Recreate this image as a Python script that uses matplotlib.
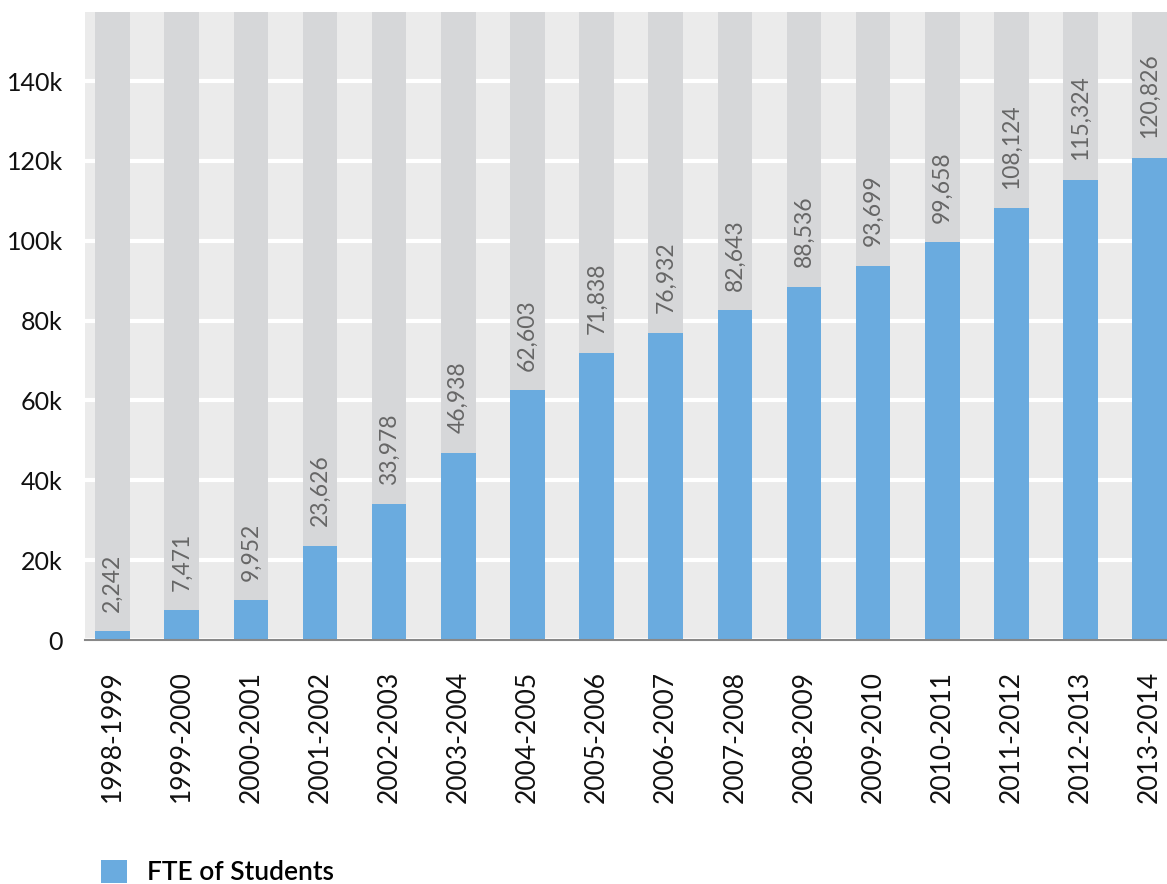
import matplotlib
matplotlib.use("Agg")
import matplotlib.pyplot as plt
from matplotlib.patches import Patch
from matplotlib.ticker import FuncFormatter, MultipleLocator

plt.rcParams['font.family'] = ['Lato', 'DejaVu Sans']

years = ["1998-1999", "1999-2000", "2000-2001", "2001-2002", "2002-2003",
         "2003-2004", "2004-2005", "2005-2006", "2006-2007", "2007-2008",
         "2008-2009", "2009-2010", "2010-2011", "2011-2012", "2012-2013",
         "2013-2014"]
fte_students = [2242, 7471, 9952, 23626, 33978, 46938, 62603, 71838, 76932,
                82643, 88536, 93699, 99658, 108124, 115324, 120826]

BG = "#ebebeb"
COLUMN = "#d6d7d9"
BLUE = "#6aabdf"
YMAX = 157300

fig = plt.figure(figsize=(11.67, 8.84), dpi=100)
ax = fig.add_axes([0.0728, 0.276, 0.9272, 0.7104])
ax.set_facecolor(BG)

x = list(range(len(years)))
ax.bar(x, [YMAX] * len(x), width=0.5, color=COLUMN, zorder=2)
ax.bar(x, fte_students, width=0.5, color=BLUE, zorder=3)

for xi, v in zip(x, fte_students):
    ax.annotate(f"{v:,}", (xi, v), xytext=(0, 14), textcoords="offset points",
                rotation=90, ha="center", va="bottom", fontsize=16.5,
                color="#666666", zorder=4)

ax.set_xlim(-0.4, 15.25)
ax.set_ylim(0, YMAX)
ax.yaxis.set_major_locator(MultipleLocator(20000))
ax.yaxis.set_major_formatter(FuncFormatter(lambda v, p: "0" if v == 0 else f"{int(v/1000)}k"))
ax.grid(axis="y", color="white", linewidth=3, zorder=1)
ax.set_axisbelow(True)

ax.set_xticks(x)
ax.set_xticklabels(years, rotation=90, fontsize=19, color="#111111")
ax.tick_params(axis="x", length=0, pad=22)
ax.tick_params(axis="y", length=0, pad=16, labelsize=18, labelcolor="#111111")

for side in ("top", "right", "left"):
    ax.spines[side].set_visible(False)
ax.spines["bottom"].set_color("#888888")
ax.spines["bottom"].set_linewidth(1.5)
ax.spines["bottom"].set_zorder(5)

handle = Patch(facecolor=BLUE, edgecolor="none", label="FTE of Students")
fig.legend(handles=[handle], loc="center left", bbox_to_anchor=(0.066, 0.013),
           frameon=False, handlelength=1.0, handleheight=1.0, handletextpad=0.75,
           prop={"size": 19, "weight": "semibold"})

fig.savefig("out.png", dpi=100)
